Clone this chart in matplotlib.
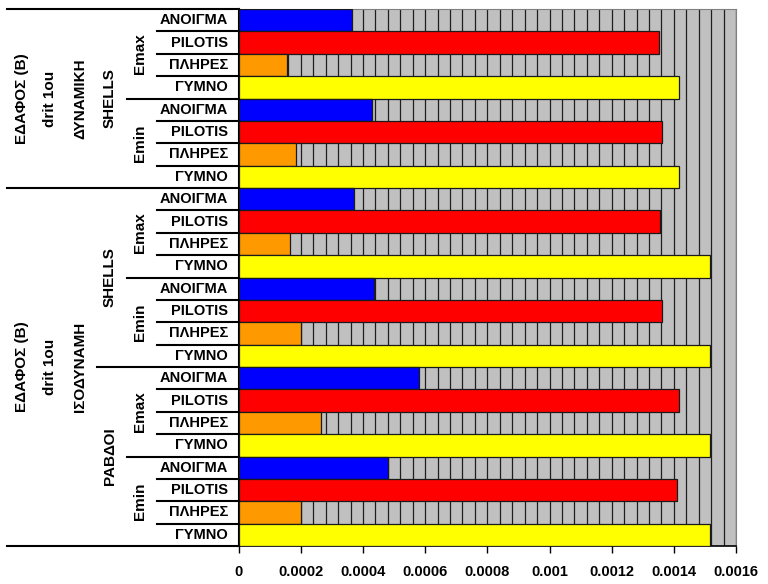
import numpy as np
import matplotlib.pyplot as plt
from matplotlib.ticker import MultipleLocator
from matplotlib.lines import Line2D
import matplotlib.transforms as mtransforms

plt.rcParams['font.family'] = ['Liberation Sans', 'DejaVu Sans']
plt.rcParams['font.weight'] = 'bold'

### data ###
items = ['ΑΝΟΙΓΜΑ', 'PILOTIS', 'ΠΛΗΡΕΣ', 'ΓΥΜΝΟ']
item_colors = ['#0000FF', '#FF0000', '#FF9900', '#FFFF00']
cases = ['Emax', 'Emin']
models = ['SHELLS', 'SHELLS', 'ΡΑΒΔΟΙ']
methods = ['ΔΥΝΑΜΙΚΗ', 'ΙΣΟΔΥΝΑΜΗ']

dyn_shells_emax = [0.000363, 0.001352, 0.000154, 0.001417]
dyn_shells_emin = [0.000428, 0.001362, 0.000184, 0.001417]
iso_shells_emax = [0.000371, 0.001356, 0.000165, 0.001517]
iso_shells_emin = [0.000435, 0.001362, 0.000200, 0.001517]
iso_rods_emax = [0.000581, 0.001417, 0.000265, 0.001517]
iso_rods_emin = [0.000480, 0.001410, 0.000200, 0.001517]

tick_vals = [0, 0.0002, 0.0004, 0.0006, 0.0008, 0.001, 0.0012, 0.0014, 0.0016]
tick_labels = ['0', '0.0002', '0.0004', '0.0006', '0.0008', '0.001',
               '0.0012', '0.0014', '0.0016']

values = (dyn_shells_emax + dyn_shells_emin + iso_shells_emax +
          iso_shells_emin + iso_rods_emax + iso_rods_emin)
n = len(values)
labels = items * (n // len(items))
colors = item_colors * (n // len(items))
ypos = np.arange(n)

W, H = 768, 584
fig = plt.figure(figsize=(W / 100, H / 100), dpi=100)
ax = fig.add_axes([238.7 / W, 1 - 546 / H, (736 - 238.7) / W, (546 - 9) / H])
ax.set_facecolor('#C0C0C0')

ax.barh(ypos, values, height=1.0, color=colors, edgecolor='#1a1a1a',
        linewidth=0.9, zorder=3)

ax.set_ylim(n - 0.5, -0.5)
ax.set_xlim(0, 0.0016)
ax.set_yticks([])
ax.set_xticks(tick_vals)
ax.set_xticklabels(tick_labels, fontsize=10.5, fontweight='bold')
ax.xaxis.set_minor_locator(MultipleLocator(0.00004))
ax.grid(which='both', axis='x', color='#1e1e1e', linewidth=0.9, zorder=1)
ax.tick_params(axis='x', which='major', direction='out', length=5,
               width=1, pad=9)
ax.tick_params(axis='x', which='minor', length=0)
ax.spines['left'].set_linewidth(1.5)
ax.spines['bottom'].set_linewidth(1.2)
ax.spines['top'].set_color('#808080')
ax.spines['right'].set_color('#808080')

# hierarchical category labels on the left (x in figure, y in data)
tr = mtransforms.blended_transform_factory(fig.transFigure, ax.transData)

def fx(px):
    return px / W

for b in range(n + 1):
    if b == 16:
        x0 = 97
    elif b % 8 == 0:
        x0 = 7
    elif b % 4 == 0:
        x0 = 127
    else:
        x0 = 157
    fig.add_artist(Line2D([fx(x0), fx(238.7)], [b - 0.5, b - 0.5],
                          transform=tr, color='black', lw=1.5))

fs = 10.5
for i, lab in enumerate(labels):
    fig.text(fx(228), i, lab, transform=tr, ha='right', va='center',
             fontsize=fs, fontweight='bold')

for k in range(n // 4):
    fig.text(fx(140), k * 4 + 1.5, cases[k % 2], transform=tr,
             rotation=90, ha='center', va='center', fontsize=11,
             fontweight='bold')

for k, m in enumerate(models):
    fig.text(fx(110), k * 8 + 3.5, m, transform=tr, rotation=90,
             ha='center', va='center', fontsize=11, fontweight='bold')

group_centers = [3.5, 15.5]
for k, m in enumerate(methods):
    c = group_centers[k]
    fig.text(fx(80), c, m, transform=tr, rotation=90, ha='center',
             va='center', fontsize=11, fontweight='bold')
    fig.text(fx(50), c, 'drit 1ou', transform=tr, rotation=90,
             ha='center', va='center', fontsize=11, fontweight='bold')
    fig.text(fx(22), c, 'ΕΔΑΦΟΣ (Β)', transform=tr, rotation=90,
             ha='center', va='center', fontsize=11, fontweight='bold')

fig.savefig('out.png', dpi=100)
